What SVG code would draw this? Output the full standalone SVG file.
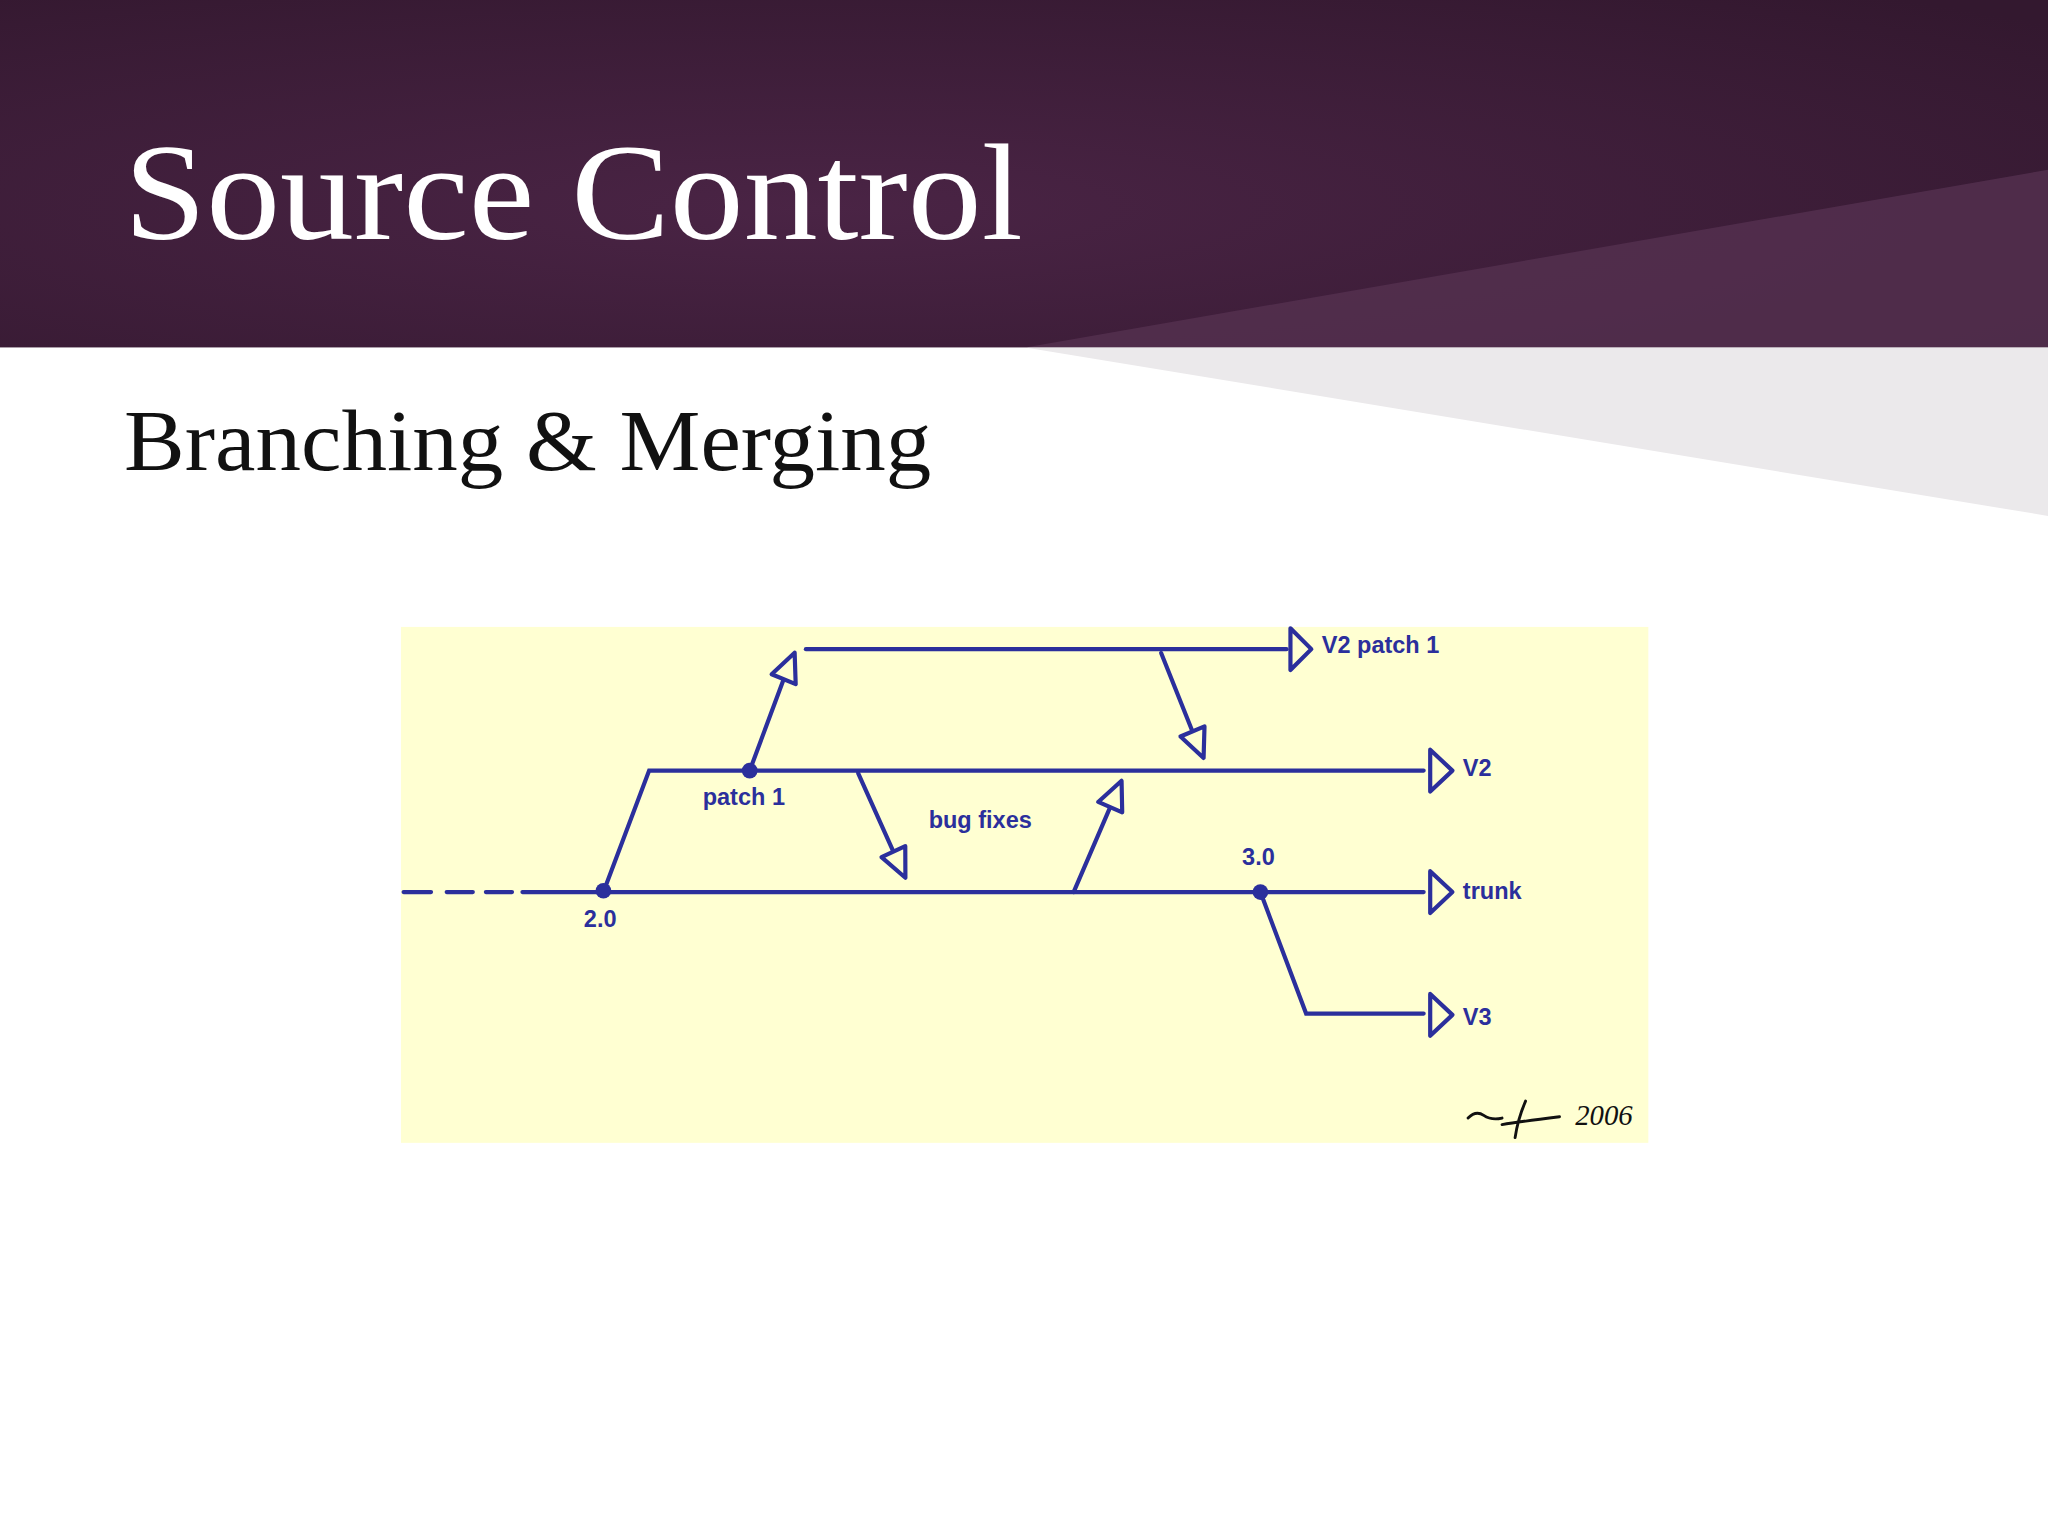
<svg xmlns="http://www.w3.org/2000/svg" width="2048" height="1536" viewBox="0 0 2048 1536">
<defs>
<radialGradient id="hdr" cx="0.4" cy="0.6" r="0.8">
<stop offset="0" stop-color="#4a2445"/><stop offset="1" stop-color="#33182f"/>
</radialGradient>
<style>
.ln{stroke:#2b2f9c;stroke-width:3.2;fill:none;stroke-linecap:round}
.ah{stroke:#2b2f9c;stroke-width:3.2;fill:#ffffd2;stroke-linejoin:round}
.lb{font-family:"Liberation Sans",Arial,sans-serif;font-weight:bold;font-size:18px;fill:#2b2f9c}
.dot{fill:#2b2f9c}
</style>
</defs>
<rect width="2048" height="1536" fill="#ffffff"/>
<g transform="scale(1.30612)">
<rect x="0" y="0" width="1568" height="266" fill="url(#hdr)"/>
<polygon points="785,266 1568,130 1568,266" fill="#553150" opacity="0.8"/>
<polygon points="785,266 1568,266 1568,395" fill="#ebe9eb"/>
<text x="95" y="183" font-family="Liberation Serif,DejaVu Serif,serif" font-size="106" fill="#ffffff" textLength="688" lengthAdjust="spacingAndGlyphs">Source Control</text>
<text x="95" y="360" font-family="Liberation Serif,DejaVu Serif,serif" font-size="66" fill="#111111" textLength="618" lengthAdjust="spacingAndGlyphs">Branching &amp; Merging</text>

<rect x="307" y="480" width="955" height="395" fill="#ffffd2"/>

<g id="connectors">
<path class="ln" d="M309,683 H330 M342,683 H362 M372,683 H392"/>
<path class="ln" d="M400,683 H1090"/>
<path class="ln" d="M462,683 L497,590 H1090"/>
<path class="ln" d="M617,497 H985"/>
<path class="ln" d="M574,590 L600,520"/>
<path class="ln" d="M889,500 L913,560"/>
<path class="ln" d="M657,592 L684,652"/>
<path class="ln" d="M822,683 L850,618"/>
<path class="ln" d="M965,683 L1000,776 H1090"/>
<polygon class="ah" points="590.8,516.2 609.2,523.8 608.4,499.7"/>
<polygon class="ah" points="922.2,556.1 903.8,563.9 921.5,580.3"/>
<polygon class="ah" points="693.1,647.8 674.9,656.2 693.2,672"/>
<polygon class="ah" points="859.2,622 840.8,614 858.7,597.8"/>
<polygon class="ah" points="988,481 1004,497 988,513"/>
<polygon class="ah" points="1095,574 1112,590 1095,606"/>
<polygon class="ah" points="1095,667 1112,683 1095,699"/>
<polygon class="ah" points="1095,761 1112,777 1095,793"/>
</g>
<g id="nodes">
<circle class="dot" cx="462" cy="682" r="6"/>
<circle class="dot" cx="574" cy="590" r="6"/>
<circle class="dot" cx="965" cy="683" r="6"/>
</g>
<g id="labels">
<text class="lb" x="538" y="616">patch 1</text>
<text class="lb" x="711" y="634">bug fixes</text>
<text class="lb" x="951" y="662">3.0</text>
<text class="lb" x="447" y="710">2.0</text>
<text class="lb" x="1012" y="500">V2 patch 1</text>
<text class="lb" x="1120" y="594">V2</text>
<text class="lb" x="1120" y="688">trunk</text>
<text class="lb" x="1120" y="785">V3</text>
</g>
<g id="signature">
<path d="M1124,856 q6,-6 12,-2 t14,2 M1168,843 q-6,14 -8,28 M1150,861 q12,-2 44,-6" stroke="#111" stroke-width="2.2" fill="none" stroke-linecap="round"/>
<text x="1206" y="861" font-family="Liberation Serif,serif" font-style="italic" font-size="22" fill="#111">2006</text>
</g>
</g>
</svg>
